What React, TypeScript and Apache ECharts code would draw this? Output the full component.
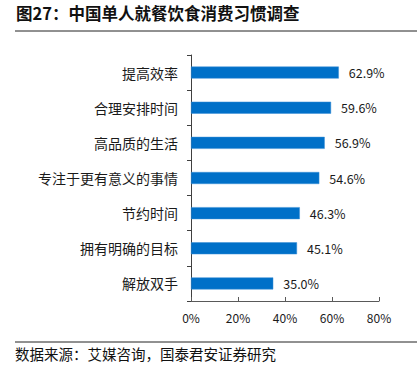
import React, { useEffect, useRef } from "react";
import * as echarts from "echarts";

const categories = ["提高效率", "合理安排时间", "高品质的生活", "专注于更有意义的事情", "节约时间", "拥有明确的目标", "解放双手"];
const values = [62.9, 59.6, 56.9, 54.6, 46.3, 45.1, 35.0];
const titleText = "图27：中国单人就餐饮食消费习惯调查";
const sourceText = "数据来源：艾媒咨询，国泰君安证券研究";

const CJK = '"Noto Sans CJK SC", "DejaVu Sans", sans-serif';

export default function App() {
  const ref = useRef<HTMLDivElement>(null);
  useEffect(() => {
    if (!ref.current) return;
    const chart = echarts.init(ref.current, undefined, { renderer: "svg" });
    chart.setOption({
      animation: false,
      backgroundColor: "#ffffff",
      grid: { left: 191, right: 38, top: 55, bottom: 67, containLabel: false },
      xAxis: {
        type: "value",
        min: 0,
        max: 80,
        interval: 20,
        axisLine: { show: true, lineStyle: { color: "#595959", width: 1 } },
        axisTick: { show: true, inside: true, length: 4, lineStyle: { color: "#595959" } },
        splitLine: { show: false },
        axisLabel: {
          formatter: "{value}%",
          color: "#1a1a1a",
          fontSize: 12,
          margin: 10,
          fontFamily: CJK,
        },
      },
      yAxis: {
        type: "category",
        data: categories,
        inverse: true,
        axisLine: { show: true, lineStyle: { color: "#404040", width: 1 } },
        axisTick: { show: true, inside: false, length: 4, alignWithLabel: false, lineStyle: { color: "#404040" } },
        axisLabel: { color: "#1a1a1a", fontSize: 14, margin: 13, fontFamily: CJK },
      },
      series: [
        {
          type: "bar",
          data: values,
          barWidth: 12,
          itemStyle: { color: "#0070C8", borderColor: "#3a8fd6", borderWidth: 0.5 },
          label: {
            show: true,
            position: "right",
            distance: 10,
            formatter: (p: any) => p.value.toFixed(1) + "%",
            color: "#1a1a1a",
            fontSize: 12.5,
            fontFamily: CJK,
          },
        },
      ],
      graphic: [
        {
          type: "text",
          left: 16,
          top: 5,
          style: { text: titleText, fontSize: 16.5, fontWeight: "bold", fill: "#111", fontFamily: CJK },
        },
        {
          type: "line",
          shape: { x1: 15, y1: 31, x2: 417, y2: 31 },
          style: { stroke: "#222", lineWidth: 1 },
        },
        {
          type: "line",
          shape: { x1: 15, y1: 342, x2: 417, y2: 342 },
          style: { stroke: "#222", lineWidth: 1 },
        },
        {
          type: "text",
          left: 15,
          top: 346,
          style: { text: sourceText, fontSize: 14.5, fill: "#111", fontFamily: CJK },
        },
      ],
    });
    return () => chart.dispose();
  }, []);
  return (
    <div
      ref={ref}
      style={{ position: "fixed", left: 0, top: 0, width: 417, height: 368 }}
    />
  );
}
